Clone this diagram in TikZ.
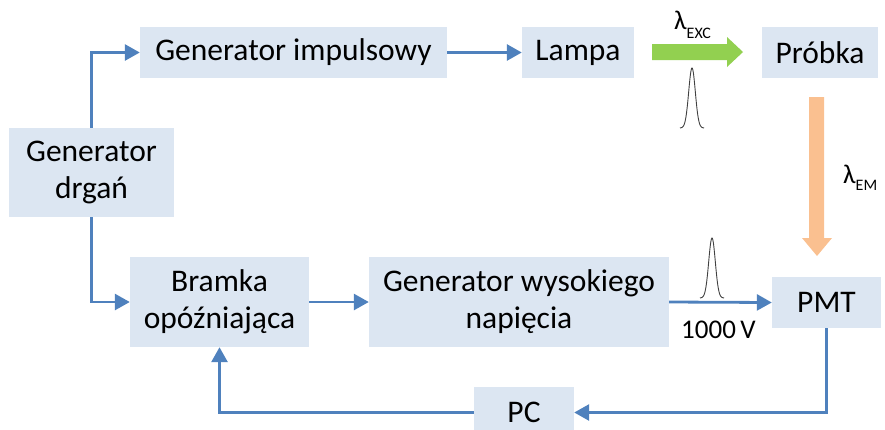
\documentclass[tikz,border=0pt]{standalone}
\usepackage{fontspec}
\setmainfont{Carlito}
\usetikzlibrary{arrows.meta}
\definecolor{boxfill}{HTML}{DCE6F2}
\definecolor{linecol}{HTML}{4F81BD}
\definecolor{greenarr}{HTML}{92D050}
\definecolor{orangearr}{HTML}{FAC090}
\definecolor{pulsecol}{HTML}{404040}
\tikzset{
  box/.style={fill=boxfill, draw=none, inner sep=0pt, align=center, font=\fontsize{31.5}{37}\selectfont},
  conn/.style={draw=linecol, line width=2.8pt, -{Triangle[length=15pt,width=16pt]}},
  pulse/.style={draw=pulsecol, line width=0.9pt},
}
\begin{document}
\begin{tikzpicture}[x=1pt,y=-1pt]
\useasboundingbox (0,0) rectangle (885,429);
\begin{scope}
\clip (0,0) rectangle (885,429);
\node[box, minimum width=307pt, minimum height=51pt] (gimp) at (293.5,52.5) {Generator impulsowy};
\node[box, minimum width=112pt, minimum height=51pt] (lampa) at (578,52.5) {Lampa};
\node[box, minimum width=116pt, minimum height=51pt] (probka) at (820,52.5) {Próbka};
\node[box, minimum width=165pt, minimum height=89pt] (gd) at (91.5,172.5) {Generator\\drgań};
\node[box, minimum width=179pt, minimum height=90pt] (bramka) at (219.5,302) {Bramka\\opóźniająca};
\node[box, minimum width=300pt, minimum height=90pt] (gwn) at (519,302) {Generator wysokiego\\napięcia};
\node[box, minimum width=109pt, minimum height=51pt] (pmt) at (826.5,302.5) {PMT};
\node[box, minimum width=100pt, minimum height=51pt] (pc) at (524,412.5) {PC};
\end{scope}

\draw[conn] (gd.north) |- (gimp.west);
\draw[conn] (gimp.east) -- (lampa.west);
\draw[conn] (gd.south) |- (bramka.west);
\draw[conn] (bramka.east) -- (gwn.west);
\draw[conn] (gwn.east) -- (pmt.west);
\draw[conn] (pmt.south) |- (pc.east);
\draw[conn] (pc.west) -| (bramka.south);

% excitation arrow (green)
\fill[greenarr] (652,44) -- (727,44) -- (727,37) -- (743,52) -- (727,67) -- (727,60) -- (652,60) -- cycle;
% emission arrow (orange)
\fill[orangearr] (809,97) -- (824,97) -- (824,238) -- (832,238) -- (817,256) -- (802,238) -- (809,238) -- cycle;

% pulses
\draw[pulse] plot[domain=-12:12, samples=60, smooth] ({692+\x},{128-60*exp(-(\x*\x)/(2*3.3*3.3))});
\draw[pulse] plot[domain=-12:12, samples=60, smooth] ({712+\x},{298-60*exp(-(\x*\x)/(2*3.3*3.3))});

% labels
\node[anchor=base west, inner sep=0pt, font=\fontsize{27}{30}\selectfont] (lexc) at (674,29) {λ\raisebox{-9pt}{\fontsize{16}{18}\selectfont EXC}};
\node[anchor=base west, inner sep=0pt, font=\fontsize{27}{30}\selectfont] (lem) at (843,183) {λ\raisebox{-7pt}{\fontsize{16}{18}\selectfont EM}};
\node[anchor=base west, inner sep=0pt, font=\fontsize{27}{30}\selectfont] (volt) at (681,338) {1000\,V};
\end{tikzpicture}
\end{document}
